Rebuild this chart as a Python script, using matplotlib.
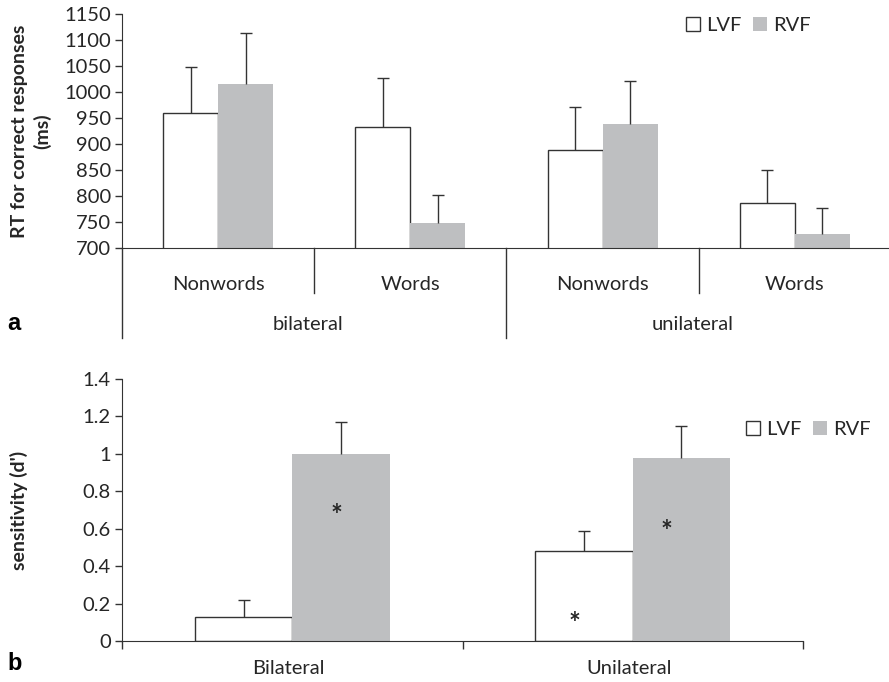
import numpy as np
import matplotlib
matplotlib.use("Agg")
import matplotlib.pyplot as plt
from matplotlib.patches import Patch
import matplotlib.transforms as mtransforms

# panel a: RT for correct responses
rt_groups = ["bilateral", "unilateral"]
rt_conds = ["Nonwords", "Words", "Nonwords", "Words"]
rt_lvf = [960, 933, 888, 787]
rt_lvf_err = [89, 94, 84, 63]
rt_rvf = [1015, 748, 938, 726]
rt_rvf_err = [99, 54, 84, 51]

# panel b: sensitivity
d_groups = ["Bilateral", "Unilateral"]
d_lvf = [0.13, 0.48]
d_lvf_err = [0.09, 0.11]
d_rvf = [1.00, 0.98]
d_rvf_err = [0.17, 0.17]
# significance marks: (group, offset from group centre, height)
d_stars = [(0, 0.13, 0.67), (1, -0.17, 0.09), (1, 0.10, 0.585)]

W, H = 889, 682
GREY = "#bebfc1"
EDGE = "#333333"
TXT = "#262626"
FONT = "Lato"
FS = 14.5

plt.rcParams["font.family"] = [FONT, "DejaVu Sans"]
plt.rcParams["text.color"] = TXT
plt.rcParams["axes.edgecolor"] = EDGE
plt.rcParams["xtick.color"] = EDGE
plt.rcParams["ytick.color"] = EDGE
plt.rcParams["ytick.labelcolor"] = TXT

fig = plt.figure(figsize=(W / 100, H / 100), dpi=100)


def px_axes(left, right, top, bottom):
    return fig.add_axes([left / W, 1 - bottom / H, (right - left) / W, (bottom - top) / H])


def draw_bars(ax, lvf, lvf_err, rvf, rvf_err, bw=0.286):
    x = np.arange(len(lvf)) + 0.5
    ax.bar(x - bw / 2, lvf, bw, color="white", edgecolor=EDGE, linewidth=1.0, zorder=2)
    ax.bar(x + bw / 2, rvf, bw, color=GREY, edgecolor="none", zorder=2)
    kw = dict(fmt="none", ecolor=EDGE, elinewidth=1.0, capsize=4, capthick=1.0, zorder=3)
    for xs, v, e in [(x - bw / 2, lvf, lvf_err), (x + bw / 2, rvf, rvf_err)]:
        eb = ax.errorbar(xs, v, yerr=[np.zeros(len(v)), e], **kw)
        eb[1][0].set_visible(False)  # no cap at the bar top
    return x


def legend(ax, x, y):
    handles = [Patch(facecolor="white", edgecolor=EDGE, linewidth=1.0, label="LVF"),
               Patch(facecolor=GREY, edgecolor="none", label="RVF")]
    ax.legend(handles=handles, loc="upper left", bbox_to_anchor=(x / W, 1 - y / H),
              bbox_transform=fig.transFigure, ncol=2, frameon=False, fontsize=FS,
              handlelength=0.7, handleheight=0.7, handletextpad=0.3,
              columnspacing=0.55, borderpad=0, borderaxespad=0)


# ---- panel a ----
ax1 = px_axes(122, 891, 14, 248)
x1 = draw_bars(ax1, rt_lvf, rt_lvf_err, rt_rvf, rt_rvf_err)
ax1.set_xlim(0, 4)
ax1.set_ylim(700, 1150)
ax1.set_yticks(np.arange(700, 1151, 50))
ax1.tick_params(axis="y", direction="out", length=5, width=1, labelsize=FS, pad=3)
ax1.set_xticks([])
for s in ["top", "right"]:
    ax1.spines[s].set_visible(False)

trans1 = mtransforms.blended_transform_factory(ax1.transData, ax1.transAxes)
short, long_ = -45 / 234, -90 / 234
for xb, yb in [(0, long_), (1, short), (2, long_), (3, short)]:
    ax1.plot([xb, xb], [0, yb], color=EDGE, lw=1.0, transform=trans1, clip_on=False)
for xc, lab in zip(x1, rt_conds):
    ax1.text(xc, -37 / 234, lab, transform=trans1, ha="center", va="center", fontsize=FS)
for i, lab in enumerate(rt_groups):
    ax1.text(2 * i + 1 - 0.03, -77 / 234, lab, transform=trans1, ha="center", va="center",
             fontsize=FS)

legend(ax1, 686, 17)

fig.text(31 / W, 1 - 131 / H, "RT for correct responses\n(ms)", rotation=90, ha="center",
         va="center", fontsize=14, fontweight="bold", linespacing=1.35)
fig.text(14 / W, 1 - 323 / H, "a", ha="center", va="center", fontsize=17,
         fontweight="bold", family="Liberation Sans", color="black")

# ---- panel b ----
ax2 = px_axes(122, 803, 379, 641)
x2 = draw_bars(ax2, d_lvf, d_lvf_err, d_rvf, d_rvf_err)
ax2.set_xlim(0, 2)
ax2.set_ylim(0, 1.4)
yt = np.round(np.arange(0, 1.41, 0.2), 1)
ax2.set_yticks(yt)
ax2.set_yticklabels([f"{v:g}" for v in yt])
ax2.tick_params(axis="y", direction="out", length=5, width=1, labelsize=FS, pad=3)
ax2.set_xticks([0, 1, 2])
ax2.set_xticklabels([])
ax2.tick_params(axis="x", direction="out", length=6, width=1)
for s in ["top", "right"]:
    ax2.spines[s].set_visible(False)

trans2 = mtransforms.blended_transform_factory(ax2.transData, ax2.transAxes)
for xc, lab in zip(x2, d_groups):
    ax2.text(xc - 0.01, -27 / 262, lab, transform=trans2, ha="center", va="center", fontsize=FS)
for g, off, yv in d_stars:
    ax2.text(x2[g] + off, yv, "*", ha="center", va="center", fontsize=20, color=TXT,
             fontweight="bold", zorder=4)

legend(ax2, 746, 421)

fig.text(19 / W, 1 - 510 / H, "sensitivity (d')", rotation=90, ha="center", va="center",
         fontsize=14, fontweight="bold")
fig.text(15 / W, 1 - 664 / H, "b", ha="center", va="center", fontsize=17,
         fontweight="bold", family="Liberation Sans", color="black")

fig.savefig("out.png", dpi=100)
